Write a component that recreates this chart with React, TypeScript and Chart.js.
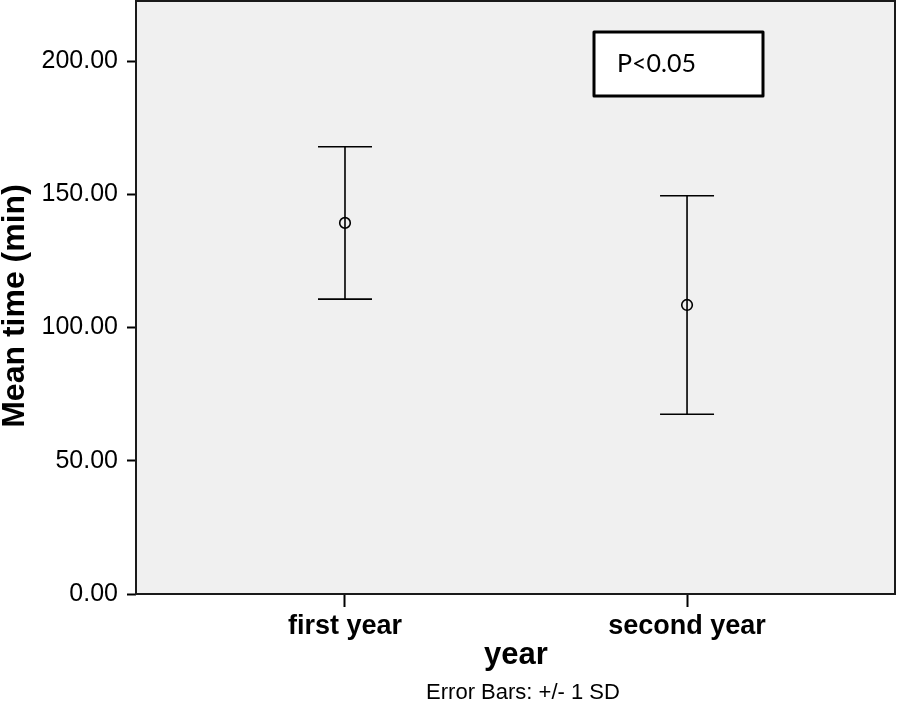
import React, { useEffect, useRef } from "react";
import { Chart, registerables } from "chart.js";

Chart.register(...registerables);

const categories = ["first year", "second year"];
const means = [139.3, 108.5];
const sds = [28.6, 41.0];
const yTicks = [0, 50, 100, 150, 200];
const annotationText = "P<0.05";
const xTitle = "year";
const yTitle = "Mean time (min)";
const footnote = "Error Bars: +/- 1 SD";

const FONT = "'Liberation Sans', Arial, sans-serif";

export default function App() {
  const ref = useRef<HTMLCanvasElement>(null);

  useEffect(() => {
    document.body.style.margin = "0";
    const canvas = ref.current!;

    const plugin = {
      id: "spssStyle",
      beforeDraw(chart: any) {
        const { ctx, chartArea: a } = chart;
        ctx.save();
        ctx.fillStyle = "#ffffff";
        ctx.fillRect(0, 0, chart.width, chart.height);
        ctx.fillStyle = "#f0f0f0";
        ctx.fillRect(a.left, a.top, a.right - a.left, a.bottom - a.top);
        ctx.restore();
      },
      beforeDatasetsDraw(chart: any) {
        const { ctx, scales } = chart;
        const xs = scales.x;
        const ys = scales.y;
        ctx.save();
        ctx.strokeStyle = "#000";
        ctx.lineWidth = 1.6;
        categories.forEach((_, i) => {
          const x = xs.getPixelForValue(i + 1);
          const yTop = ys.getPixelForValue(means[i] + sds[i]);
          const yBot = ys.getPixelForValue(means[i] - sds[i]);
          const half = 27;
          ctx.beginPath();
          ctx.moveTo(x, yTop);
          ctx.lineTo(x, yBot);
          ctx.moveTo(x - half, yTop);
          ctx.lineTo(x + half, yTop);
          ctx.moveTo(x - half, yBot);
          ctx.lineTo(x + half, yBot);
          ctx.stroke();
        });
        ctx.restore();
      },
      afterDraw(chart: any) {
        const { ctx, chartArea: a } = chart;
        ctx.save();
        // frame
        ctx.strokeStyle = "#1a1a1a";
        ctx.lineWidth = 2;
        ctx.strokeRect(a.left, a.top, a.right - a.left, a.bottom - a.top);

        // annotation box
        const bx = a.left + 458;
        const by = a.top + 31;
        const bw = 169;
        const bh = 64;
        ctx.fillStyle = "#ffffff";
        ctx.fillRect(bx, by, bw, bh);
        ctx.lineWidth = 3;
        ctx.strokeStyle = "#000";
        ctx.lineJoin = "round";
        ctx.strokeRect(bx, by, bw, bh);
        ctx.fillStyle = "#000";
        ctx.font = "25px Lato, 'Open Sans', sans-serif";
        ctx.textAlign = "left";
        ctx.textBaseline = "middle";
        ctx.fillText(annotationText, bx + 23, by + bh / 2);

        // y title
        ctx.save();
        ctx.translate(15, 306);
        ctx.rotate(-Math.PI / 2);
        ctx.font = "bold 32px " + FONT;
        ctx.textAlign = "center";
        ctx.textBaseline = "middle";
        ctx.fillText(yTitle, 0, 0);
        ctx.restore();

        // x title
        ctx.font = "bold 31px " + FONT;
        ctx.textAlign = "center";
        ctx.textBaseline = "middle";
        ctx.fillText(xTitle, 516, 655);

        // footnote
        ctx.font = "22px " + FONT;
        ctx.fillText(footnote, 523, 693);
        ctx.restore();
      },
    };

    const chart = new Chart(canvas, {
      type: "scatter",
      data: {
        datasets: [
          {
            data: categories.map((_, i) => ({ x: i + 1, y: means[i] })),
            pointStyle: "circle",
            pointRadius: 5.3,
            pointHoverRadius: 5.3,
            pointBorderWidth: 1.6,
            pointBorderColor: "#000",
            pointBackgroundColor: "rgba(0,0,0,0)",
            showLine: false,
          },
        ],
      },
      options: {
        responsive: false,
        animation: false,
        layout: { autoPadding: false, padding: { left: 0, right: 3, top: 1, bottom: 0 } },
        plugins: {
          legend: { display: false },
          tooltip: { enabled: false },
          title: { display: false },
        },
        scales: {
          x: {
            type: "linear",
            min: 0.389,
            max: 2.608,
            afterBuildTicks: (s: any) => {
              s.ticks = categories.map((_, i) => ({ value: i + 1 }));
            },
            afterFit: (s: any) => {
              s.height = 113;
              s.paddingLeft = 0;
              s.paddingRight = 0;
            },
            grid: {
              display: true,
              drawOnChartArea: false,
              drawTicks: true,
              tickLength: 13,
              tickColor: "#000",
              tickWidth: 2,
            },
            border: { display: false },
            ticks: {
              color: "#000",
              padding: 3,
              maxRotation: 0,
              autoSkip: false,
              font: { family: FONT, size: 27, weight: "bold" },
              callback: (v: any) => categories[Math.round(Number(v)) - 1] ?? "",
            },
          },
          y: {
            min: 0,
            max: 222.6,
            afterBuildTicks: (s: any) => {
              s.ticks = yTicks.map((v) => ({ value: v }));
            },
            afterFit: (s: any) => {
              s.width = 136;
              s.paddingTop = 0;
              s.paddingBottom = 0;
            },
            grid: {
              display: true,
              drawOnChartArea: false,
              drawTicks: true,
              tickLength: 9,
              tickColor: "#000",
              tickWidth: 2,
            },
            border: { display: false },
            ticks: {
              color: "#000",
              padding: 9,
              font: { family: FONT, size: 25 },
              callback: (v: any) => Number(v).toFixed(2),
            },
          },
        },
      },
      plugins: [plugin],
    } as any);

    return () => chart.destroy();
  }, []);

  return (
    <div style={{ position: "absolute", left: 0, top: 0, width: 898, height: 707 }}>
      <canvas ref={ref} width={898} height={707} style={{ display: "block" }} />
    </div>
  );
}
